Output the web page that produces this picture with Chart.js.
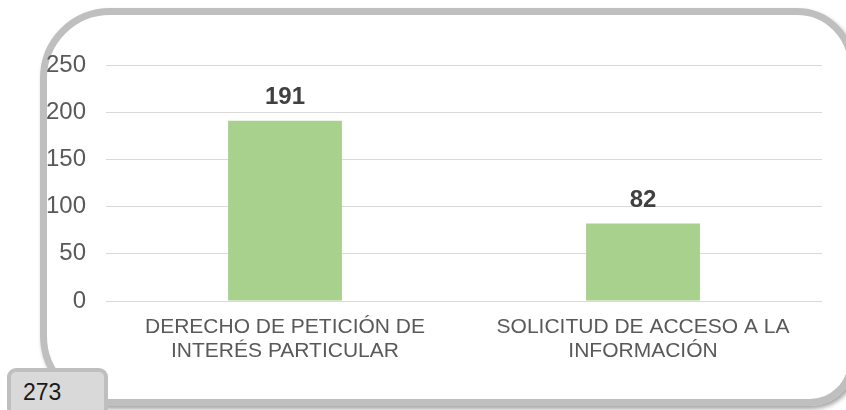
<!DOCTYPE html>
<html>
<head>
<meta charset="utf-8">
<script src="https://cdn.jsdelivr.net/npm/chart.js@4.4.1/dist/chart.umd.min.js"></script>
<style>
  html, body { margin: 0; padding: 0; background: #fff; }
  #wrap { position: relative; width: 846px; height: 410px; overflow: hidden; }
  #frame {
    position: absolute; left: 40px; top: 8px; width: 815px; height: 398px;
    box-sizing: border-box; border: 7px solid #bfbfbf;
    border-radius: 70px 58px 45px 70px;
    box-shadow: 2px 3px 4px rgba(0,0,0,0.35);
  }
  #chartBox { position: absolute; left: 0; top: 0; width: 846px; height: 410px; }
  #total {
    position: absolute; left: 7px; top: 368px; width: 101px; height: 50px;
    box-sizing: border-box; border: 4px solid #bfbfbf; border-radius: 9px;
    background: #d9d9d9; color: #1a1a1a;
    font: 23px "Liberation Sans", Arial, sans-serif;
    padding: 7px 0 0 12px;
  }
</style>
</head>
<body>
<div id="wrap">
  <div id="frame"></div>
  <div id="chartBox"><canvas id="myChart"></canvas></div>
  <div id="total">273</div>
</div>
<script>
// data
var categories = [
  ["DERECHO DE PETICIÓN DE", "INTERÉS PARTICULAR"],
  ["SOLICITUD DE ACCESO A LA", "INFORMACIÓN"]
];
var values = [191, 82];
var yTicks = [0, 50, 100, 150, 200, 250];

// value labels over the bars
var barLabels = {
  id: "barLabels",
  afterDatasetsDraw: function (chart) {
    var ctx = chart.ctx;
    var meta = chart.getDatasetMeta(0);
    ctx.save();
    ctx.font = "bold 24px 'Liberation Sans', Arial, sans-serif";
    ctx.fillStyle = "#404040";
    ctx.textAlign = "center";
    ctx.textBaseline = "alphabetic";
    meta.data.forEach(function (bar, i) {
      ctx.fillText(String(values[i]), bar.x, bar.y - 16.5);
    });
    ctx.restore();
  }
};

new Chart("myChart", {
  type: "bar",
  data: {
    labels: categories,
    datasets: [{
      data: values,
      backgroundColor: "#a9d18e",
      borderWidth: 0,
      barPercentage: 0.318,
      categoryPercentage: 1
    }]
  },
  options: {
    responsive: true,
    maintainAspectRatio: false,
    animation: false,
    layout: { padding: { left: 0, right: 24, top: 65, bottom: 0 } },
    plugins: {
      legend: { display: false },
      tooltip: { enabled: false }
    },
    scales: {
      x: {
        grid: { display: false, drawTicks: false },
        border: { display: false },
        ticks: {
          color: "#595959",
          padding: 14,
          maxRotation: 0,
          autoSkip: false,
          font: { family: "'Liberation Sans', Arial, sans-serif", size: 21, lineHeight: 1.143 }
        },
        afterFit: function (scale) { scale.height = 109; }
      },
      y: {
        min: 0,
        max: 250,
        afterBuildTicks: function (scale) {
          scale.ticks = yTicks.map(function (v) { return { value: v }; });
        },
        grid: { color: "#d9d9d9", lineWidth: 1, drawTicks: false },
        border: { display: false },
        ticks: {
          color: "#595959",
          padding: 20,
          font: { family: "'Liberation Sans', Arial, sans-serif", size: 24 }
        },
        afterFit: function (scale) { scale.width = 106; }
      }
    }
  },
  plugins: [barLabels]
});
</script>
</body>
</html>
